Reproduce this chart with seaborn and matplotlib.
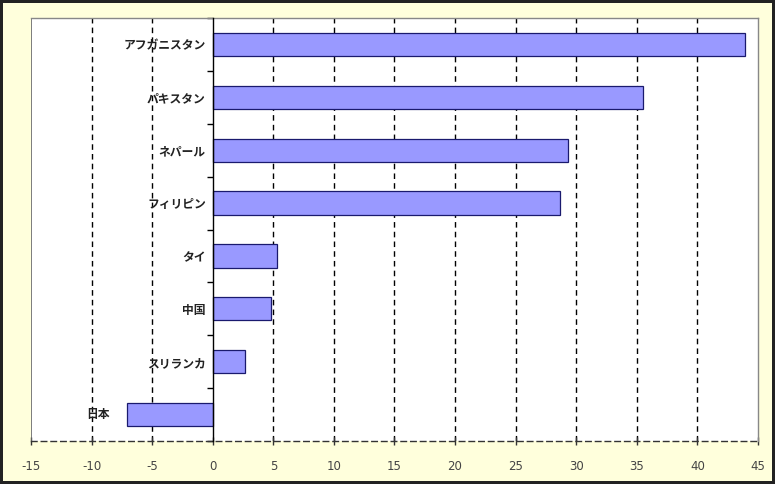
import numpy as np
import pandas as pd
import matplotlib
matplotlib.use("Agg")
import matplotlib.pyplot as plt
import seaborn as sns

countries = ["アフガニスタン", "パキスタン", "ネパール", "フィリピン", "タイ", "中国", "スリランカ", "日本"]
values = [43.9, 35.5, 29.3, 28.7, 5.3, 4.8, 2.7, -7.1]
x_ticks = list(range(-15, 50, 5))

df = pd.DataFrame({"country": countries, "value": values})

sns.set_theme(style="white")
plt.rcParams["font.family"] = ["Noto Sans CJK JP", "DejaVu Sans"]

fig = plt.figure(figsize=(7.75, 4.84), dpi=100)
fig.patch.set_facecolor("#FFFFDC")
fig.patch.set_edgecolor("#222222")
fig.patch.set_linewidth(3)
ax = fig.add_axes([0.040, 0.0888, 0.938, 0.874])
ax.set_facecolor("white")

sns.barplot(data=df, y="country", x="value", orient="h", ax=ax,
            color="#9999FF", edgecolor="#1a1a6e", linewidth=0.9,
            width=0.44, saturation=1)

ax.set_xlim(-15, 45)
ax.set_ylim(7.5, -0.5)
ax.set_xlabel("")
ax.set_ylabel("")
ax.set_xticks(x_ticks)
ax.set_xticklabels([str(t) for t in x_ticks], fontsize=8.5, color="#444444",
                   family=["DejaVu Sans"])

# vertical dashed gridlines
for t in x_ticks[1:-1]:
    if t != 0:
        ax.axvline(t, color="black", linestyle=(0, (4, 3)), linewidth=1, zorder=0.5)

# spines
ax.spines["left"].set_position(("data", 0))
ax.spines["left"].set_color("black")
ax.spines["left"].set_linewidth(1)
ax.spines["left"].set_zorder(3)
ax.spines["bottom"].set_color("#333333")
ax.spines["bottom"].set_linestyle((0, (4, 3)))
ax.spines["bottom"].set_linewidth(1)
for s in ["top", "right"]:
    ax.spines[s].set_color("#888888")
    ax.spines[s].set_linewidth(1)
ax.axvline(-15, color="#666666", linewidth=1.2, zorder=0.6)

# y ticks: labels at category centers, marks at boundaries
ax.set_yticks(np.arange(-0.5, 8, 1), minor=True)
ax.tick_params(axis="y", which="major", length=0, pad=5, labelsize=8.5)
ax.tick_params(axis="y", which="minor", length=4, width=1, color="black", direction="out", left=True)
labels = ax.get_yticklabels()
for i, lab in enumerate(labels):
    lab.set_fontweight("bold")
    lab.set_color("#222222")
# negative bar: label moves to the left of the bar
neg_labels = []
for i, (c, v) in enumerate(zip(countries, values)):
    if v < 0:
        neg_labels.append((i, c, v))
ax.set_yticklabels([c if v >= 0 else "" for c, v in zip(countries, values)])
for lab in ax.get_yticklabels():
    lab.set_fontweight("bold")
    lab.set_color("#222222")
for i, c, v in neg_labels:
    ax.annotate(c, xy=(v, i), xytext=(-12, 0), textcoords="offset points",
                ha="right", va="center", fontsize=8.5, fontweight="bold", color="#222222")

ax.tick_params(axis="x", which="major", length=6, width=1, color="#333333",
               direction="inout", bottom=True, pad=11)

fig.savefig("out.png", dpi=100, facecolor=fig.get_facecolor(), edgecolor=fig.get_edgecolor())
